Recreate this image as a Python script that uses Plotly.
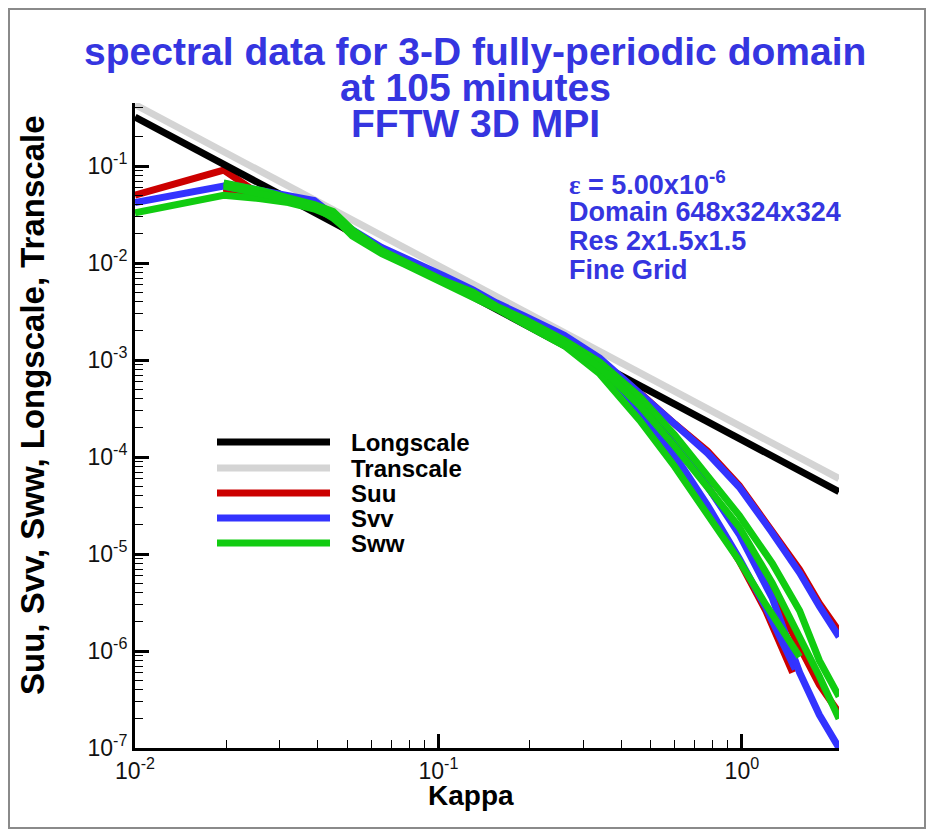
import plotly.graph_objects as go

# ---------------- data ----------------
kappa_line = [0.01, 0.1, 1.0, 2.09]
longscale = [0.32, 0.0069, 1.5e-4, 4.4e-5]
transcale = [0.43, 0.0093, 2.0e-4, 6.0e-5]

# short spectra (first direction)
kappa_uA = [0.01, 0.0196, 0.026, 0.032, 0.039, 0.045, 0.052, 0.065, 0.078, 0.09, 0.104, 0.13, 0.155, 0.194, 0.26, 0.34, 0.46, 0.6, 0.77, 0.98, 1.2, 1.47]
suu_A = [0.050, 0.091, 0.050, 0.044, 0.037, 0.027, 0.020, 0.0128, 0.0098, 0.0079, 0.0066, 0.0047, 0.0035, 0.0024, 0.0015, 8.0e-4, 2.8e-4, 1.0e-4, 3.0e-5, 8.5e-6, 2.6e-6, 6.0e-7]
kappa_vA = [0.01, 0.0196, 0.026, 0.032, 0.039, 0.045, 0.052, 0.065, 0.078, 0.09, 0.104, 0.13, 0.155, 0.194, 0.26, 0.34, 0.46, 0.6, 0.77, 0.98, 1.2, 1.5]
svv_A = [0.042, 0.062, 0.053, 0.047, 0.042, 0.030, 0.021, 0.0138, 0.0106, 0.0085, 0.0072, 0.0051, 0.0038, 0.0026, 0.0016, 8.5e-4, 3.0e-4, 1.05e-4, 3.2e-5, 9.0e-6, 2.8e-6, 6.5e-7]
kappa_wA = [0.01, 0.0196, 0.026, 0.032, 0.039, 0.045, 0.052, 0.065, 0.078, 0.09, 0.104, 0.13, 0.155, 0.194, 0.26, 0.34, 0.46, 0.6, 0.77, 0.98, 1.2, 1.55]
sww_A = [0.033, 0.050, 0.046, 0.042, 0.036, 0.030, 0.019, 0.0125, 0.0096, 0.0077, 0.0063, 0.0045, 0.0034, 0.0023, 0.0014, 7.2e-4, 2.4e-4, 8.0e-5, 2.6e-5, 8.5e-6, 3.0e-6, 8.7e-7]

# long spectra (second and third directions)
kappa_BC = [0.0196, 0.026, 0.032, 0.039, 0.045, 0.052, 0.065, 0.078, 0.09, 0.104, 0.13, 0.155, 0.194, 0.26, 0.34, 0.46, 0.6, 0.77, 0.98, 1.26, 1.55, 1.8, 2.09]
suu_B = [0.058, 0.050, 0.045, 0.039, 0.028, 0.020, 0.0135, 0.0105, 0.0083, 0.0070, 0.0050, 0.0037, 0.0026, 0.0017, 1.0e-3, 4.6e-4, 2.2e-4, 1.15e-4, 5.1e-5, 1.75e-5, 6.9e-6, 3.1e-6, 1.6e-6]
svv_B = [0.066, 0.055, 0.048, 0.044, 0.031, 0.022, 0.0145, 0.0110, 0.0088, 0.0074, 0.0053, 0.0039, 0.0028, 0.0018, 1.05e-3, 4.7e-4, 2.2e-4, 1.1e-4, 4.9e-5, 1.65e-5, 6.4e-6, 2.9e-6, 1.4e-6]
sww_B = [0.067, 0.056, 0.047, 0.040, 0.034, 0.022, 0.0135, 0.0102, 0.0080, 0.0066, 0.0050, 0.0036, 0.0026, 0.0016, 9.5e-4, 4.2e-4, 1.7e-4, 6.5e-5, 2.5e-5, 8.0e-6, 2.6e-6, 8.0e-7, 3.4e-7]
suu_C = [0.060, 0.050, 0.044, 0.037, 0.028, 0.020, 0.0130, 0.0100, 0.0080, 0.0067, 0.0048, 0.0036, 0.0025, 0.0016, 9.0e-4, 3.6e-4, 1.4e-4, 5.0e-5, 1.7e-5, 4.0e-6, 1.1e-6, 4.5e-7, 2.3e-7]
svv_C = [0.064, 0.054, 0.046, 0.042, 0.030, 0.021, 0.0140, 0.0105, 0.0085, 0.0071, 0.0051, 0.0038, 0.0027, 0.0017, 9.5e-4, 3.8e-4, 1.4e-4, 5.0e-5, 1.6e-5, 3.5e-6, 6.0e-7, 2.2e-7, 1.0e-7]
sww_C = [0.062, 0.052, 0.045, 0.038, 0.029, 0.020, 0.0128, 0.0098, 0.0078, 0.0064, 0.0046, 0.0035, 0.0024, 0.0015, 8.5e-4, 3.4e-4, 1.3e-4, 5.0e-5, 1.9e-5, 5.0e-6, 1.4e-6, 5.5e-7, 2.0e-7]

x_ticks = [0.01, 0.1, 1.0]
x_ticktext = ["10<sup>-2</sup>", "10<sup>-1</sup>", "10<sup>0</sup>"]
y_ticks = [1e-7, 1e-6, 1e-5, 1e-4, 1e-3, 1e-2, 1e-1]
y_ticktext = ["10<sup>-7</sup>", "10<sup>-6</sup>", "10<sup>-5</sup>", "10<sup>-4</sup>",
              "10<sup>-3</sup>", "10<sup>-2</sup>", "10<sup>-1</sup>"]

legend_names = ["Longscale", "Transcale", "Suu", "Svv", "Sww"]
title_lines = ["spectral data for 3-D fully-periodic domain", "at 105 minutes", "FFTW 3D MPI"]
info_lines = ["<span style='font-family:Liberation Serif'>\u03b5</span> = 5.00x10<sup>-6</sup>",
              "Domain 648x324x324", "Res 2x1.5x1.5", "Fine Grid"]

# ---------------- styles / layout ----------------
C_BLACK = "#000000"
C_GRAY = "#d4d4d4"
C_RED = "#cc0000"
C_BLUE = "#3333ff"
C_GREEN = "#11cc11"
C_TEXT = "#3535e0"
LW = 7
FONT = "Liberation Sans, Arial, sans-serif"

OFF = 8                      # page offset of the figure inside the window
W, H = 939 - OFF, 840 - OFF
L, R, T, B = 135 - OFF, 839 - OFF, 103 - OFF, 748 - OFF   # plot area in figure pixels


def px(xs):
    """screen x -> paper x"""
    return (xs - OFF - L) / (R - L)


def py(ys):
    """screen y -> paper y"""
    return (B - (ys - OFF)) / (B - T)


fig = go.Figure()


def add(x, y, color):
    fig.add_trace(go.Scatter(x=x, y=y, mode="lines", line=dict(color=color, width=LW),
                             showlegend=False, hoverinfo="skip"))


add(kappa_line, transcale, C_GRAY)
add(kappa_uA, suu_A, C_RED)
add(kappa_BC, suu_B, C_RED)
add(kappa_BC, suu_C, C_RED)
add(kappa_line, longscale, C_BLACK)
add(kappa_vA, svv_A, C_BLUE)
add(kappa_BC, svv_B, C_BLUE)
add(kappa_BC, svv_C, C_BLUE)
add(kappa_wA, sww_A, C_GREEN)
add(kappa_BC, sww_B, C_GREEN)
add(kappa_BC, sww_C, C_GREEN)

minor_x = [m * 10 ** e for e in (-2, -1) for m in range(2, 10)]
minor_y = [m * 10 ** e for e in range(-7, 0) for m in range(2, 10)] + [0.2, 0.3, 0.4]

axis_common = dict(type="log", showline=True, linecolor="black", linewidth=3,
                   ticks="inside", ticklen=14, tickwidth=3, tickcolor="black",
                   tickmode="array", showgrid=False, zeroline=False, mirror=False,
                   tickfont=dict(family=FONT, size=23, color="#111111"))
fig.update_xaxes(range=[-2, 0.3201], tickvals=x_ticks, ticktext=x_ticktext,
                 minor=dict(tickmode="array", tickvals=minor_x, ticks="inside", ticklen=8,
                            tickwidth=1.2, tickcolor="black", showgrid=False),
                 **axis_common)
fig.update_yaxes(range=[-7, -0.35], tickvals=y_ticks, ticktext=y_ticktext,
                 minor=dict(tickmode="array", tickvals=minor_y, ticks="inside", ticklen=8,
                            tickwidth=1.2, tickcolor="black", showgrid=False),
                 **axis_common)

ann = []
for txt, yy in zip(title_lines, [52, 88, 123]):
    ann.append(dict(text="<b>" + txt + "</b>", x=px(475), y=py(yy), xref="paper", yref="paper",
                    xanchor="center", yanchor="middle", showarrow=False,
                    font=dict(family=FONT, size=39, color=C_TEXT)))
for txt, yy in zip(info_lines, [183, 212, 241, 270]):
    ann.append(dict(text="<b>" + txt + "</b>", x=px(567), y=py(yy), xref="paper", yref="paper",
                    xanchor="left", yanchor="middle", showarrow=False,
                    font=dict(family=FONT, size=27, color=C_TEXT)))
ann.append(dict(text="<b>Kappa</b>", x=px(471), y=py(795), xref="paper", yref="paper",
                xanchor="center", yanchor="middle", showarrow=False,
                font=dict(family=FONT, size=28, color="black")))
ann.append(dict(text="<b>Suu, Svv, Sww, Longscale, Transcale</b>", x=px(32), y=py(405),
                xref="paper", yref="paper", xanchor="center", yanchor="middle",
                showarrow=False, textangle=-90,
                font=dict(family=FONT, size=33, color="black")))

shapes = []
leg_colors = [C_BLACK, C_GRAY, C_RED, C_BLUE, C_GREEN]
for name, col, yy in zip(legend_names, leg_colors, [442, 468, 493, 518, 543]):
    shapes.append(dict(type="line", xref="paper", yref="paper", x0=px(217), x1=px(330),
                       y0=py(yy), y1=py(yy), line=dict(color=col, width=LW)))
    ann.append(dict(text="<b>" + name + "</b>", x=px(349), y=py(yy), xref="paper", yref="paper",
                    xanchor="left", yanchor="middle", showarrow=False,
                    font=dict(family=FONT, size=24, color="black")))

# outer frame
shapes.append(dict(type="rect", xref="paper", yref="paper", x0=px(OFF + 1), x1=px(925),
                   y0=py(OFF + 1), y1=py(828), line=dict(color="#8a8a8a", width=2), layer="below"))

fig.update_layout(width=W, height=H, margin=dict(l=L, r=W - R, t=T, b=H - B),
                  paper_bgcolor="white", plot_bgcolor="white",
                  annotations=ann, shapes=shapes, showlegend=False)

fig.write_html("out.html")
